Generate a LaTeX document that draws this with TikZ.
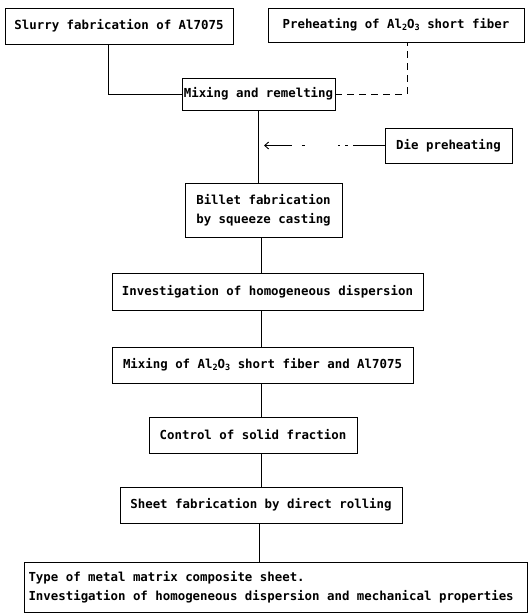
\documentclass[tikz,border=0pt]{standalone}
\usepackage{fontspec}
\setmainfont{DejaVu Sans Mono}[BoldFont={DejaVu Sans Mono Bold}]
\usetikzlibrary{arrows.meta}
\newcommand{\sub}[1]{\raisebox{-0.25ex}{\fontsize{8.5}{9}\selectfont #1}}
\begin{document}
\begin{tikzpicture}[x=1pt,y=-1pt,
  box/.style={draw,line width=0.9pt,inner sep=0pt,align=center,
    font=\fontsize{12.4}{19}\selectfont\bfseries},
  conn/.style={line width=0.9pt},
  dconn/.style={line width=0.9pt,dash pattern=on 7pt off 5pt},
  ddconn/.style={line width=0.9pt,dash pattern=on 32pt off 5pt on 3pt off 5pt on 2pt off 33pt on 3pt off 10pt on 40pt}]
\useasboundingbox (0,0) rectangle (529,613);
\node[box,minimum width=228pt,minimum height=36pt] (slurry) at (119,26) {Slurry fabrication of Al7075};
\node[box,minimum width=256pt,minimum height=34pt] (pre) at (396,25) {Preheating of Al\sub{2}O\sub{3} short fiber};
\node[box,minimum width=153pt,minimum height=32pt] (mix) at (258.5,94) {Mixing and remelting};
\node[box,minimum width=127pt,minimum height=35pt] (die) at (448.5,145.5) {Die preheating};
\node[box,minimum width=157pt,minimum height=54pt] (billet) at (263.5,210) {Billet fabrication\\by squeeze casting};
\node[box,minimum width=311pt,minimum height=37pt] (inv) at (267.5,291.5) {Investigation of homogeneous dispersion};
\node[box,minimum width=301pt,minimum height=36pt] (mixal) at (262.5,365) {Mixing of Al\sub{2}O\sub{3} short fiber and Al7075};
\node[box,minimum width=208pt,minimum height=36pt] (ctrl) at (253,435) {Control of solid fraction};
\node[box,minimum width=282pt,minimum height=36pt] (sheet) at (261,505) {Sheet fabrication by direct rolling};
\node[box,minimum height=50pt,align=left,inner xsep=4.5pt] (final) at (275.5,587)
  {\makebox[494pt][l]{Type of metal matrix composite sheet.}\\\makebox[494pt][l]{Investigation of homogeneous dispersion and mechanical properties}};
\coordinate (spine) at (261,0);
\coordinate (dieend) at (264,145.5);
\draw[conn] ([xshift=-11pt]slurry.south) |- (mix.west);
\draw[dconn] (mix.east) -| ([xshift=11pt]pre.south);
\draw[conn] (mix.south) -- (mix.south |- billet.north);
\draw[ddconn,-{Straight Barb[length=4pt,width=7pt]}] (die.west) -- (dieend);
\draw[conn] (billet.south -| spine) -- (inv.north -| spine);
\draw[conn] (inv.south -| spine) -- (mixal.north -| spine);
\draw[conn] (mixal.south -| spine) -- (ctrl.north -| spine);
\draw[conn] (ctrl.south -| spine) -- (sheet.north -| spine);
\draw[conn] ([xshift=-2pt]sheet.south -| spine) -- ([xshift=-2pt]final.north -| spine);
\end{tikzpicture}
\end{document}
